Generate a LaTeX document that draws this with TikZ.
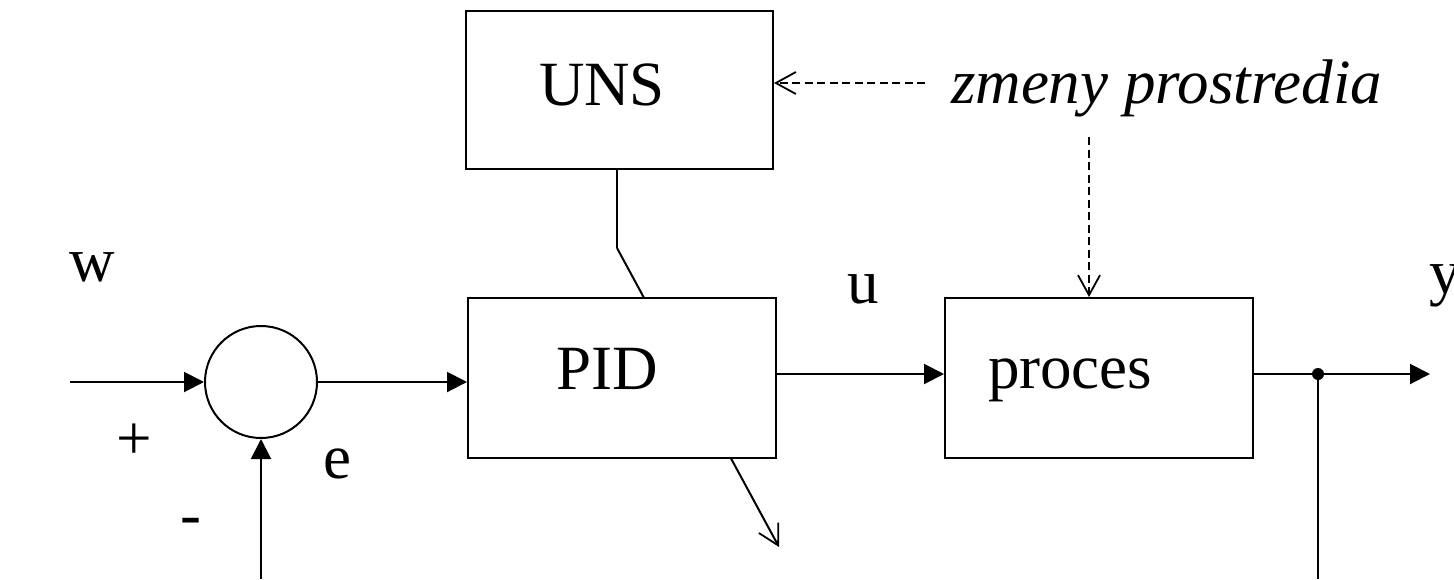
\documentclass[tikz,border=0pt]{standalone}
\usepackage{fontspec}
\setmainfont{Liberation Serif}
\usetikzlibrary{arrows.meta}
\begin{document}
\begin{tikzpicture}[x=1pt,y=-1pt,
  line width=2pt,
  blk/.style={draw,fill=white,line width=2pt},
  lbl/.style={inner sep=0pt,anchor=base west,font=\fontsize{63}{70}\selectfont},
  sol/.style={-{Triangle[length=20pt,width=20pt]}},
  opn/.style={-{Straight Barb[length=20pt,width=22pt,line width=1.8pt]}},
  dsh/.style={dash pattern=on 8pt off 4.5pt,line width=1.8pt}]
\useasboundingbox (0,0) rectangle (1454,579);
% coordinates
\coordinate (win) at (70,382);
\coordinate (fb) at (261,579);
\coordinate (ybot) at (1318,579);
\coordinate (yend) at (1430,374);
\coordinate (dot) at (1318,374);
\coordinate (unsb) at (617,168);
\coordinate (knee) at (617,248);
\coordinate (adj) at (779,547);
\coordinate (dashstart) at (925,83);
\coordinate (dashtop) at (1089,137);
% adjustment line (behind PID)
\draw (unsb) -- (knee);
\draw[opn] (knee) -- (adj);
% blocks
\node[blk,minimum width=307pt,minimum height=158pt,anchor=north west] (uns) at (465,10) {};
\node[blk,minimum width=308pt,minimum height=160pt,anchor=north west] (pid) at (467,297) {};
\node[blk,minimum width=308pt,minimum height=160pt,anchor=north west] (proc) at (944,297) {};
\node[draw,circle,minimum size=112pt,inner sep=0pt,line width=2pt] (sum) at (261,382) {};
% labels
\node[lbl] (tuns) at (538,105) {UNS};
\node[lbl] (tpid) at (555,389) {PID};
\node[lbl] (tproc) at (987,388) {proces};
\node[lbl] (tzm) at (950,103) {\itshape zmeny prostredia};
\node[lbl] (tu) at (846,303) {u};
\node[lbl] (ty) at (1428,293) {y};
\node[lbl] (tw) at (68,281) {w};
\node[lbl] (te) at (322,478) {e};
\node[lbl] (tplus) at (115,459) {+};
\node[lbl] (tminus) at (179,535) {-};
% connectors
\draw[sol] (win) -- (sum.west);
\draw[sol] (fb) -- (sum.south);
\draw[sol] (sum.east) -- (pid.west |- sum.east);
\draw[sol] (pid.east |- 0,374) -- (proc.west |- 0,374);
\draw[sol] (proc.east |- yend) -- (yend);
\draw (dot) -- (ybot);
\fill (dot) circle (6pt);
\draw[dsh,opn] (dashstart) -- (uns.east |- dashstart);
\draw[dsh,opn] (dashtop) -- (dashtop |- proc.north);
\end{tikzpicture}
\end{document}
